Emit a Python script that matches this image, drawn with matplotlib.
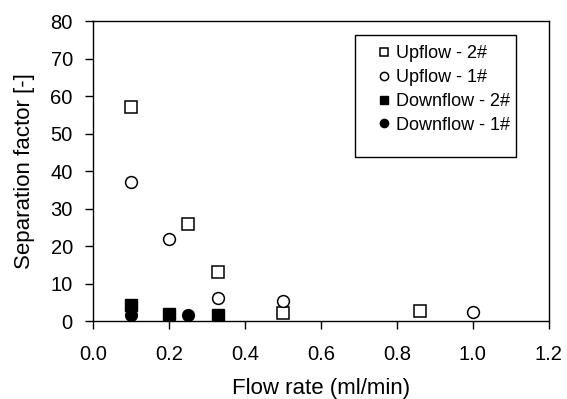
import matplotlib
matplotlib.use("Agg")
import matplotlib.pyplot as plt
from matplotlib.patches import Rectangle

plt.rcParams['font.family'] = ['Liberation Sans', 'DejaVu Sans']

# data
up2_x = [0.10, 0.25, 0.33, 0.50, 0.86]
up2_y = [57.1, 25.9, 13.0, 2.3, 2.7]
up1_x = [0.10, 0.20, 0.33, 0.50, 1.00]
up1_y = [37.1, 21.8, 6.3, 5.4, 2.5]
down2_x = [0.10, 0.20, 0.33]
down2_y = [4.3, 2.0, 1.6]
down1_x = [0.10, 0.25]
down1_y = [1.6, 1.6]

xticks = [0.0, 0.2, 0.4, 0.6, 0.8, 1.0, 1.2]
yticks = [0, 10, 20, 30, 40, 50, 60, 70, 80]

fig = plt.figure(figsize=(5.67, 3.99), dpi=100)
ax = fig.add_axes([0.164, 0.195, 0.804, 0.752])

ms = 8.5
ax.plot(up2_x, up2_y, ls='none', marker='s', ms=ms, mfc='white', mec='black', mew=1.1, label='Upflow - 2#')
ax.plot(up1_x, up1_y, ls='none', marker='o', ms=ms, mfc='white', mec='black', mew=1.1, label='Upflow - 1#')
ax.plot(down2_x, down2_y, ls='none', marker='s', ms=ms, mfc='black', mec='black', label='Downflow - 2#')
ax.plot(down1_x, down1_y, ls='none', marker='o', ms=ms, mfc='black', mec='black', label='Downflow - 1#')

ax.set_xlim(0, 1.2)
ax.set_ylim(0, 80)
ax.set_xticks(xticks)
ax.set_xticklabels([f'{v:.1f}' for v in xticks])
ax.set_yticks(yticks)
ax.tick_params(axis='x', direction='out', length=6, width=1, labelsize=14.5, pad=11)
ax.tick_params(axis='y', direction='out', length=6, width=1, labelsize=14.5, pad=8.5)
for s in ax.spines.values():
    s.set_linewidth(1)

ax.set_xlabel('Flow rate (ml/min)', fontsize=16, labelpad=10)
ax.set_ylabel('Separation factor [-]', fontsize=16, labelpad=11)

# legend box has extra room below the entries, so draw the frame separately
ax.add_patch(Rectangle((0.575, 0.547), 0.353, 0.406, transform=ax.transAxes,
                       facecolor='white', edgecolor='black', lw=1, zorder=4))
leg = ax.legend(loc='upper left', bbox_to_anchor=(0.572, 0.953), fontsize=13,
                frameon=False, handletextpad=-0.5, handlelength=2.3,
                markerscale=0.7, borderpad=0.55, labelspacing=0.38, borderaxespad=0)
leg.set_zorder(5)

fig.savefig('out.png', dpi=100)
